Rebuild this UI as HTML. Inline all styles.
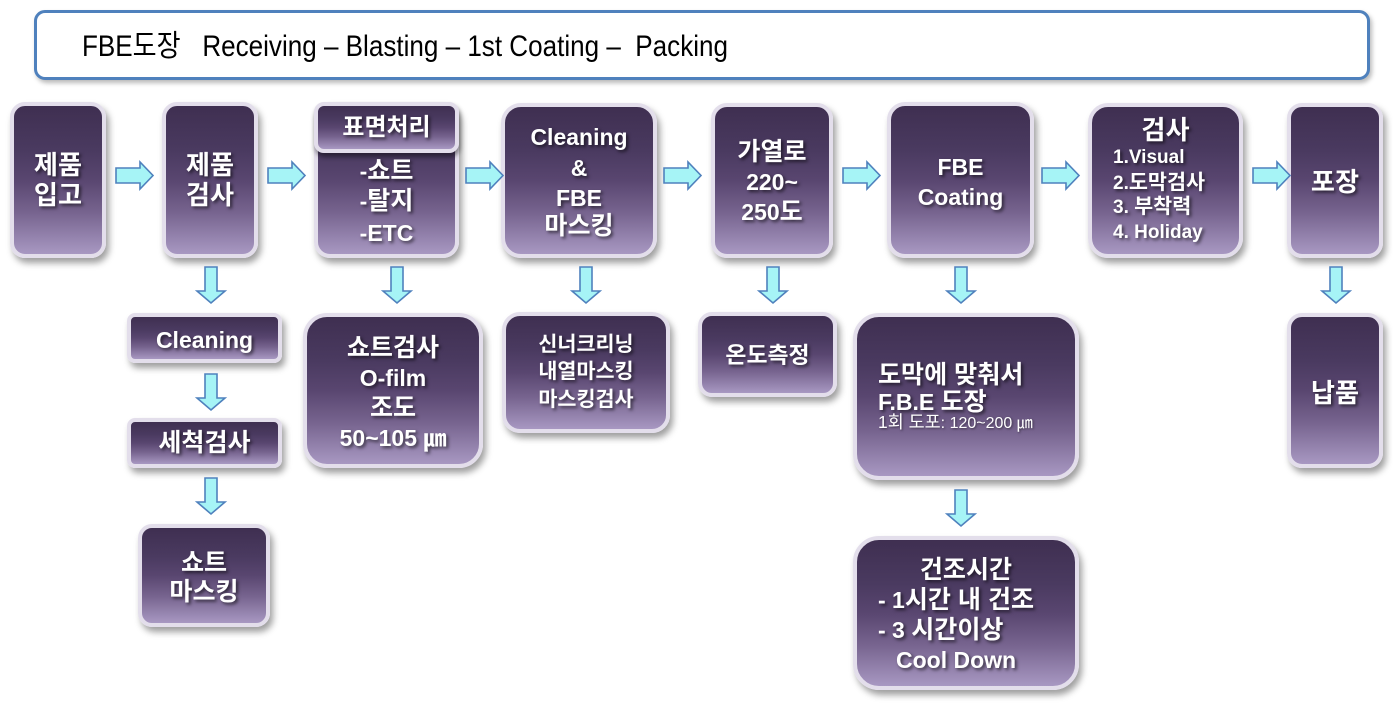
<!DOCTYPE html>
<html><head><meta charset="utf-8">
<style>
html,body{margin:0;padding:0;background:#fff;}
body{width:1393px;height:707px;position:relative;overflow:hidden;font-family:"Liberation Sans","Noto Sans CJK KR",sans-serif;}
.hdr{position:absolute;left:34px;top:10px;width:1336px;height:70px;box-sizing:border-box;border:3px solid #4f81bd;border-radius:11px;background:#fff;box-shadow:2px 3px 5px rgba(0,0,0,0.28);}
.b{position:absolute;box-sizing:border-box;border:4px solid #e3deeb;background:linear-gradient(to bottom,#3f2f51 0%,#4a3a60 30%,#594670 50%,#77648f 72%,#a898c2 100%);box-shadow:3px 5px 7px rgba(0,0,0,0.38);}
.t{position:absolute;color:#fff;font-weight:bold;font-family:"Liberation Sans","Noto Sans CJK KR",sans-serif;text-align:center;white-space:nowrap;line-height:30px;height:30px;text-shadow:2px 2px 3px rgba(0,0,0,0.6);}
.k{font-size:1.09em;}
.l{text-align:left;}
svg{position:absolute;left:0;top:0;}
</style></head><body>

<div class="hdr"></div>
<svg width="1393" height="707" style="z-index:1">
  <text x="82" y="56" font-family="Liberation Sans, Noto Sans CJK KR, sans-serif" font-size="30" fill="#000" textLength="646" lengthAdjust="spacingAndGlyphs" xml:space="preserve">FBE도장   Receiving – Blasting – 1st Coating –  Packing</text>
</svg>

<!-- Top row boxes -->
<div class="b" style="left:10px;top:102px;width:96px;height:156px;border-radius:15px"></div>
<div class="t" style="left:10px;width:96px;top:150px;font-size:24px"><span class="k">제품</span></div>
<div class="t" style="left:10px;width:96px;top:180px;font-size:24px"><span class="k">입고</span></div>

<div class="b" style="left:162px;top:102px;width:96px;height:156px;border-radius:15px"></div>
<div class="t" style="left:162px;width:96px;top:150px;font-size:24px"><span class="k">제품</span></div>
<div class="t" style="left:162px;width:96px;top:180px;font-size:24px"><span class="k">검사</span></div>

<div class="b" style="left:314px;top:102px;width:145px;height:156px;border-radius:16px"></div>
<div class="b" style="left:314px;top:102px;width:145px;height:51px;border-radius:10px;box-shadow:1px 4px 5px rgba(0,0,0,0.45)"></div>
<div class="t" style="left:314px;width:145px;top:113px;font-size:22px"><span class="k">표면처리</span></div>
<div class="t" style="left:314px;width:145px;top:156px;font-size:23px">-<span class="k">쇼트</span></div>
<div class="t" style="left:314px;width:145px;top:186px;font-size:23px">-<span class="k">탈지</span></div>
<div class="t" style="left:314px;width:145px;top:218px;font-size:23px">-ETC</div>

<div class="b" style="left:501px;top:103px;width:156px;height:155px;border-radius:20px"></div>
<div class="t" style="left:501px;width:156px;top:122px;font-size:23px">Cleaning</div>
<div class="t" style="left:501px;width:156px;top:153px;font-size:23px">&amp;</div>
<div class="t" style="left:501px;width:156px;top:183px;font-size:23px">FBE</div>
<div class="t" style="left:501px;width:156px;top:211px;font-size:23px"><span class="k">마스킹</span></div>

<div class="b" style="left:711px;top:103px;width:122px;height:155px;border-radius:16px"></div>
<div class="t" style="left:711px;width:122px;top:137px;font-size:23px"><span class="k">가열로</span></div>
<div class="t" style="left:711px;width:122px;top:167px;font-size:23px">220~</div>
<div class="t" style="left:711px;width:122px;top:197px;font-size:23px">250<span class="k">도</span></div>

<div class="b" style="left:887px;top:102px;width:147px;height:156px;border-radius:18px"></div>
<div class="t" style="left:887px;width:147px;top:152px;font-size:23px">FBE</div>
<div class="t" style="left:887px;width:147px;top:182px;font-size:23px">Coating</div>

<div class="b" style="left:1088px;top:103px;width:155px;height:155px;border-radius:20px"></div>
<div class="t" style="left:1088px;width:155px;top:115px;font-size:24px"><span class="k">검사</span></div>
<div class="t l" style="left:1113px;top:143px;font-size:19px">1.Visual</div>
<div class="t l" style="left:1113px;top:168px;font-size:19px">2.<span class="k">도막검사</span></div>
<div class="t l" style="left:1113px;top:192px;font-size:19px">3. <span class="k">부착력</span></div>
<div class="t l" style="left:1113px;top:218px;font-size:19px">4. Holiday</div>

<div class="b" style="left:1287px;top:103px;width:96px;height:155px;border-radius:15px"></div>
<div class="t" style="left:1287px;width:96px;top:167px;font-size:24px"><span class="k">포장</span></div>

<!-- Second row boxes -->
<div class="b" style="left:127px;top:313px;width:155px;height:50px;border-radius:8px"></div>
<div class="t" style="left:127px;width:155px;top:325px;font-size:23px">Cleaning</div>

<div class="b" style="left:127px;top:418px;width:155px;height:50px;border-radius:8px"></div>
<div class="t" style="left:127px;width:155px;top:428px;font-size:23px"><span class="k">세척검사</span></div>

<div class="b" style="left:138px;top:524px;width:132px;height:103px;border-radius:14px"></div>
<div class="t" style="left:138px;width:132px;top:548px;font-size:23px"><span class="k">쇼트</span></div>
<div class="t" style="left:138px;width:132px;top:577px;font-size:23px"><span class="k">마스킹</span></div>

<div class="b" style="left:303px;top:313px;width:180px;height:155px;border-radius:24px"></div>
<div class="t" style="left:303px;width:180px;top:333px;font-size:23px"><span class="k">쇼트검사</span></div>
<div class="t" style="left:303px;width:180px;top:363px;font-size:23px">O-film</div>
<div class="t" style="left:303px;width:180px;top:393px;font-size:23px"><span class="k">조도</span></div>
<div class="t" style="left:303px;width:180px;top:423px;font-size:23px">50~105 ㎛</div>

<div class="b" style="left:502px;top:312px;width:168px;height:121px;border-radius:18px"></div>
<div class="t" style="left:502px;width:168px;top:330px;font-size:19px"><span class="k">신너크리닝</span></div>
<div class="t" style="left:502px;width:168px;top:357px;font-size:19px"><span class="k">내열마스킹</span></div>
<div class="t" style="left:502px;width:168px;top:385px;font-size:19px"><span class="k">마스킹검사</span></div>

<div class="b" style="left:698px;top:312px;width:139px;height:85px;border-radius:14px"></div>
<div class="t" style="left:698px;width:139px;top:340px;font-size:21px"><span class="k">온도측정</span></div>

<div class="b" style="left:853px;top:313px;width:226px;height:167px;border-radius:26px"></div>
<div class="t l" style="left:878px;top:360px;font-size:23px"><span class="k">도막에 맞춰서</span></div>
<div class="t l" style="left:878px;top:387px;font-size:23px">F.B.E <span class="k">도장</span></div>
<div class="t l" style="left:878px;top:407px;font-size:16px;font-weight:normal;text-shadow:1px 1px 2px rgba(0,0,0,0.5)"><span class="k">1회 도포</span>: 120~200 ㎛</div>

<div class="b" style="left:853px;top:536px;width:226px;height:154px;border-radius:26px"></div>
<div class="t" style="left:853px;width:226px;top:555px;font-size:23px"><span class="k">건조시간</span></div>
<div class="t l" style="left:878px;top:585px;font-size:23px">- 1<span class="k">시간 내 건조</span></div>
<div class="t l" style="left:878px;top:615px;font-size:23px">- 3 <span class="k">시간이상</span></div>
<div class="t l" style="left:896px;top:645px;font-size:23px">Cool Down</div>

<div class="b" style="left:1287px;top:313px;width:96px;height:155px;border-radius:15px"></div>
<div class="t" style="left:1287px;width:96px;top:378px;font-size:24px"><span class="k">납품</span></div>

<!-- Arrows -->
<svg width="1393" height="707" style="z-index:2">
  <g fill="#a6f4f6" stroke="#4f81bd" stroke-width="1.6" stroke-linejoin="miter">
    <polygon points="116,168 140,168 140,162 153,175.5 140,189 140,183 116,183"/>
    <polygon points="268,168 292,168 292,162 305,175.5 292,189 292,183 268,183"/>
    <polygon points="466,168 490,168 490,162 503,175.5 490,189 490,183 466,183"/>
    <polygon points="664,168 688,168 688,162 701,175.5 688,189 688,183 664,183"/>
    <polygon points="843,168 867,168 867,162 880,175.5 867,189 867,183 843,183"/>
    <polygon points="1042,168 1066,168 1066,162 1079,175.5 1066,189 1066,183 1042,183"/>
    <polygon points="1253,168 1277,168 1277,162 1290,175.5 1277,189 1277,183 1253,183"/>
    <polygon points="205,267 217,267 217,291 225,291 211,303 197,291 205,291"/>
    <polygon points="205,374 217,374 217,398 225,398 211,410 197,398 205,398"/>
    <polygon points="205,478 217,478 217,502 225,502 211,514 197,502 205,502"/>
    <polygon points="391,267 403,267 403,291 411,291 397,303 383,291 391,291"/>
    <polygon points="580,267 592,267 592,291 600,291 586,303 572,291 580,291"/>
    <polygon points="767,267 779,267 779,291 787,291 773,303 759,291 767,291"/>
    <polygon points="955,267 967,267 967,291 975,291 961,303 947,291 955,291"/>
    <polygon points="955,490 967,490 967,514 975,514 961,526 947,514 955,514"/>
    <polygon points="1330,267 1342,267 1342,291 1350,291 1336,303 1322,291 1330,291"/>
  </g>
</svg>
</body></html>
